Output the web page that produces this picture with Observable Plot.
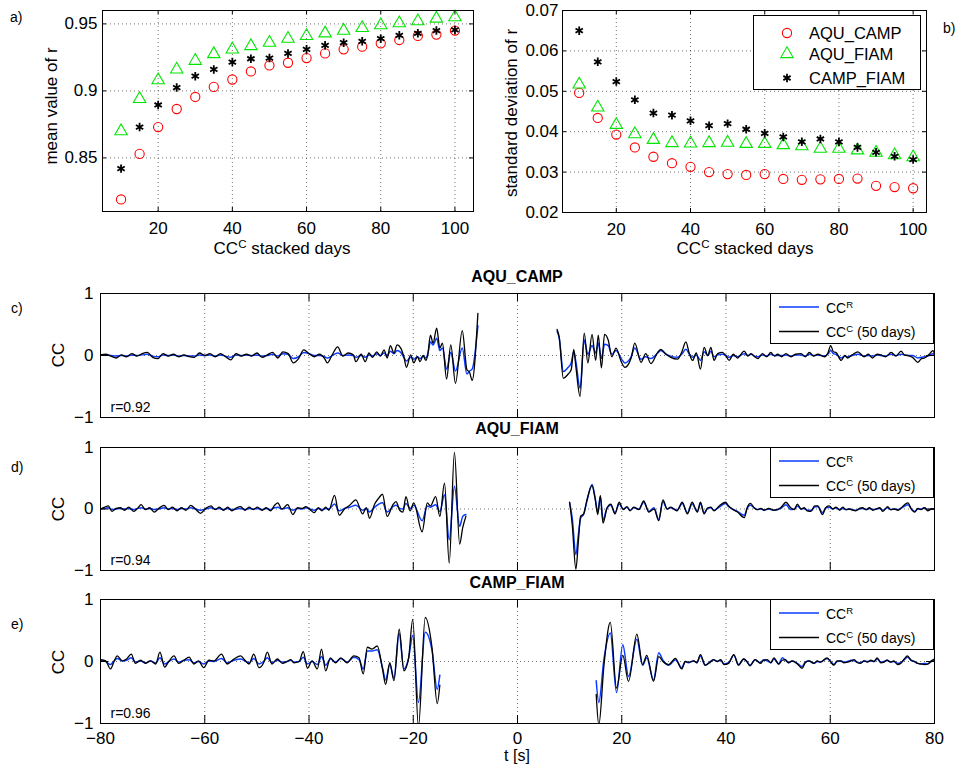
<!DOCTYPE html>
<html><head><meta charset="utf-8">
<script src="https://cdn.jsdelivr.net/npm/d3@7"></script>
<script src="https://cdn.jsdelivr.net/npm/@observablehq/plot@0.6"></script>
<style>
body{margin:0;background:#fff;}
#fig{position:relative;width:964px;height:766px;background:#fff;font-family:"Liberation Sans",Arial,Helvetica,sans-serif;color:#000;overflow:hidden;}
.abs{position:absolute;white-space:nowrap;line-height:1;}
.ctr{transform:translate(-50%,-50%);}
.rot{transform:translate(-50%,-50%) rotate(-90deg);}
.panel{position:absolute;}
sup{font-size:68%;vertical-align:0;position:relative;top:-0.55em;line-height:0;}
</style></head><body><div id="fig"></div>
<script>
// ---------------- data ----------------
const days = [10,15,20,25,30,35,40,45,50,55,60,65,70,75,80,85,90,95,100];
const pairNames = ["AQU_CAMP","AQU_FIAM","CAMP_FIAM"];
const meanAQU_CAMP = [0.819,0.853,0.873,0.8865,0.8955,0.903,0.9085,0.9145,0.919,0.921,0.9245,0.928,0.931,0.933,0.9355,0.938,0.941,0.942,0.945];
const meanAQU_FIAM = [0.870,0.894,0.908,0.916,0.9225,0.9275,0.931,0.9335,0.936,0.939,0.941,0.943,0.945,0.947,0.949,0.9505,0.952,0.954,0.955];
const meanCAMP_FIAM = [0.842,0.873,0.8895,0.9025,0.911,0.916,0.9215,0.924,0.9245,0.928,0.931,0.934,0.936,0.937,0.939,0.9415,0.943,0.945,0.9455];
const stdAQU_CAMP = [0.0496,0.0434,0.0393,0.0361,0.0338,0.0322,0.0313,0.0300,0.0295,0.0293,0.0295,0.0283,0.0281,0.0282,0.0283,0.0284,0.0266,0.0263,0.0260];
const stdAQU_FIAM = [0.0517,0.0460,0.0417,0.0394,0.0380,0.0372,0.0371,0.0372,0.0373,0.0370,0.0370,0.0367,0.0364,0.0358,0.0358,0.0354,0.0348,0.0342,0.0337];
const stdCAMP_FIAM = [0.0650,0.0573,0.0524,0.0479,0.0446,0.0441,0.0427,0.0415,0.0420,0.0406,0.0396,0.0387,0.0375,0.0382,0.0375,0.0361,0.0349,0.0339,0.0331];
const dayTicks = [20,40,60,80,100];
const meanTicks = [0.85,0.9,0.95];
const stdTicks = [0.02,0.03,0.04,0.05,0.06,0.07];
const lagTicks = [-80,-60,-40,-20,0,20,40,60,80];
const lagGrid = [-60,-40,-20,0,20,40,60];
const ccTicks = [-1,0,1];
const rValues = ["r=0.92","r=0.94","r=0.96"];

// rows: [t (s), CC^R, CC^C (50 days)]
const acLeft = [
[-80,0.01,0.01],[-79,0.01,0.02],[-78,0.00,-0.01],[-77,-0.01,-0.04],[-76,0.00,0.01],[-75,-0.01,-0.02],[-74,0.01,0.03],[-73,0.00,-0.01],[-72,0.01,0.03],[-71,0.02,0.05],[-70,-0.01,-0.03],[-69,-0.02,-0.05],[-68,0.01,0.03],[-67,0.00,-0.01],[-66,0.01,0.02],[-65,-0.01,-0.02],[-64,0.00,0.01],[-63,-0.01,-0.02],[-62,-0.01,-0.03],[-61,0.01,0.04],[-60,0.00,0.00],[-59,0.01,0.03],[-58,-0.01,-0.02],[-57,0.01,0.03],[-56,-0.01,-0.02],[-55,-0.03,-0.07],[-54,0.01,0.03],[-53,0.00,-0.01],[-52,0.01,0.02],[-51,0.00,-0.01],[-50,0.01,0.04],[-49,-0.01,-0.03],[-48,0.00,0.01],[-47,0.02,0.05],[-46,-0.01,-0.04],[-45,0.03,0.06],[-44,0.02,0.03],[-43,-0.05,-0.12],[-42,-0.02,-0.05],[-41,0.05,0.09],[-40,0.03,0.03],[-39,0.00,-0.02],[-38,0.00,0.02],[-37,-0.02,-0.05],[-36.5,-0.04,-0.12],[-35.5,0.00,0.02],[-34.5,0.04,0.14],[-33.5,0.00,-0.01],[-32.5,0.01,0.04],[-31.5,0.00,0.01],[-31,-0.03,-0.10],[-30,0.00,0.02],[-29.2,-0.03,-0.10],[-28.5,0.01,0.04],[-27.8,-0.01,-0.03],[-27,0.03,0.06],
[-26.3,0.00,-0.01],[-25.6,0.04,0.09],[-25,0.00,-0.04],[-24.4,0.07,0.16],[-23.7,0.03,0.04],[-23.1,0.08,0.17],[-22.4,0.05,0.12],[-21.8,-0.03,-0.02],[-21.3,-0.09,-0.19],[-20.5,-0.03,0.01],[-19.9,-0.06,-0.12],[-19.2,-0.02,-0.02],[-18.7,-0.05,-0.10],[-18.1,-0.01,0.00],[-17.6,-0.04,-0.08],[-17.2,0.03,0.02],[-16.7,0.22,0.33],[-16.2,0.17,0.20],[-15.5,0.28,0.44],[-14.9,0.08,0.12],[-14.4,0.12,0.20],[-13.6,-0.22,-0.38],[-12.8,0.05,0.17],[-11.9,-0.25,-0.45],[-10.6,0.12,0.40],[-9.7,-0.30,-0.23],[-9.2,-0.25,-0.27],[-8.7,-0.22,-0.40],[-7.6,0.48,0.68]
];
const acRight = [
[7.6,0.39,0.42],[8.0,0.28,0.30],[8.8,-0.26,-0.37],[9.6,-0.20,-0.31],[10.3,-0.12,-0.23],[10.8,0.06,0.10],[11.2,-0.10,-0.18],[12.0,-0.53,-0.66],[12.8,0.25,0.36],[13.5,0.02,-0.12],[14.3,0.16,0.34],[15.0,0.04,-0.08],[15.5,0.20,0.33],[16.1,-0.05,-0.20],[16.7,0.18,0.34],[17.4,0.16,0.25],[18.1,0.02,-0.02],[18.9,0.08,0.12],[19.9,-0.05,-0.10],[20.6,-0.12,-0.19],[21.8,-0.02,-0.04],[22.5,0.12,0.20],[23.7,-0.06,-0.11],[24.6,-0.02,0.03],[25.6,-0.05,-0.13],[26.9,0.04,0.05],[27.5,0.08,0.10],[28.5,0.02,0.02],[29.4,-0.01,-0.03],[30.7,-0.03,-0.06],
[31.5,0.02,0.05],[32.3,0.10,0.22],[33.0,0.02,0.02],[33.6,-0.03,-0.08],[34.3,0.01,0.04],[35.1,-0.08,-0.22],[35.8,0.06,0.13],[36.5,0.00,0.00],[37.1,0.07,0.13],[37.7,-0.02,-0.08],[38.4,0.01,0.03],[39.3,0.02,0.05],[40.0,0.00,-0.01],[40.6,-0.03,-0.08],[41.4,0.00,0.02],[42.2,-0.02,-0.04],[43.5,0.03,0.07],[44.2,0.00,-0.01],[44.8,0.02,0.03],[45.5,-0.01,-0.02],[46.1,-0.02,-0.05],[47.0,0.01,0.03],[47.8,-0.01,-0.02],[48.6,0.02,0.05],[49.3,0.00,-0.01],[49.9,0.00,0.02],[50.7,0.00,-0.02],[51.5,0.01,0.03],[52.5,-0.01,-0.02],[53.3,0.01,0.02],[54.4,0.01,0.03],[55.2,-0.01,-0.02],[56.0,0.02,0.05],[56.8,0.00,-0.01],[57.6,0.01,0.02],[58.9,-0.01,-0.02],[59.5,0.02,0.03],[60.1,0.08,0.16],[60.6,0.03,0.06],[61.1,0.02,0.05],[62.1,-0.04,-0.08],[62.8,-0.01,0.00],[63.3,-0.02,-0.04],[64.2,0.00,0.01],[65.3,0.02,0.06],[66.5,-0.01,-0.02],[67.3,0.00,0.02],[68.1,-0.01,-0.04],[69.0,0.01,0.02],[69.7,0.00,0.01],[70.6,-0.01,-0.02],[71.7,0.02,0.05],[72.6,0.00,-0.01],[73.6,0.02,0.07],[74.2,0.01,0.01],[74.9,0.00,0.00],[75.8,0.00,-0.03],[76.8,-0.04,-0.11],[77.5,-0.03,-0.05],[78.1,-0.02,-0.04],[79.0,0.00,0.02],[79.7,0.03,0.08],[80.0,0.01,0.02]
];
const afLeft = [
[-80,0.00,0.00],[-79.2,0.01,0.03],[-78.5,0.02,0.05],[-77.8,-0.01,-0.04],[-77.0,0.00,0.01],[-76.2,0.01,0.02],[-75.4,0.00,-0.02],[-74.6,0.01,0.03],[-73.6,-0.01,-0.04],[-72.9,0.01,0.01],[-72.2,0.02,0.07],[-71.4,0.00,-0.01],[-70.6,0.01,0.02],[-69.7,-0.01,-0.05],[-68.8,0.00,0.01],[-67.8,0.02,0.06],[-67.0,0.00,-0.01],[-66.2,0.01,0.03],[-65.3,-0.01,-0.03],[-64.5,0.01,0.02],[-63.6,0.00,-0.02],[-62.7,0.02,0.06],[-61.8,0.00,0.00],[-60.8,-0.02,-0.07],[-59.8,0.00,0.01],[-58.8,0.02,0.05],[-58.0,0.00,-0.01],[-57.2,0.01,0.03],[-56.4,-0.01,-0.02],[-55.6,0.01,0.03],[-54.8,-0.01,-0.03],[-53.9,0.00,0.02],[-53.1,0.01,0.04],[-52.3,-0.01,-0.02],[-51.5,0.01,0.03],[-50.7,0.00,-0.01],[-49.9,0.01,0.03],[-49.0,-0.01,-0.02],[-48.2,0.01,0.02],[-47.4,-0.01,-0.03],[-46.6,0.02,0.06],[-46.0,0.03,0.10],[-45.2,0.00,0.00],[-44.1,0.02,0.07],[-43.1,-0.02,-0.09],[-42.2,0.01,0.02],[-41.3,0.00,0.01],[-40.6,0.02,0.04],[-39.8,0.00,-0.01],[-39.0,-0.02,-0.06],[-38.2,0.01,0.02],[-37.5,-0.01,-0.03],[-36.8,0.01,0.03],[-36.2,0.00,-0.02],
[-35.1,0.08,0.22],[-34.2,-0.03,-0.10],[-33.2,0.01,0.00],[-32.2,0.03,0.06],[-31.0,0.06,0.15],[-29.7,-0.02,-0.08],[-29.0,0.01,0.02],[-28.4,-0.05,-0.15],[-27.4,0.03,0.08],[-26.6,0.08,0.18],[-25.9,0.10,0.24],[-25.0,-0.05,-0.12],[-23.9,0.04,0.07],[-23.3,0.06,0.12],[-22.6,0.01,-0.02],[-22.0,0.00,-0.05],[-21.4,0.09,0.20],[-20.6,0.01,-0.03],[-19.9,0.06,0.10],[-18.3,-0.19,-0.37],[-17.3,0.05,0.10],[-16.7,0.03,0.05],[-15.7,0.07,0.20],[-14.9,-0.04,-0.12],[-14.0,0.23,0.42],[-13.1,-0.50,-0.88],[-12.1,0.37,0.92],[-11.1,-0.28,-0.57],[-10.5,-0.12,-0.30],[-9.9,-0.09,-0.12]
];
const afRight = [
[10.0,0.10,0.11],[10.5,-0.15,-0.25],[11.2,-0.74,-0.98],[11.7,-0.40,-0.50],[12.1,-0.15,-0.12],[12.7,-0.08,-0.08],[13.3,0.12,0.14],[14.3,0.40,0.38],[14.9,0.18,0.16],[15.4,-0.05,-0.09],[15.9,0.20,0.22],[16.4,-0.18,-0.23],[17.2,0.02,0.02],[17.9,0.06,0.08],[18.7,-0.06,-0.08],[19.5,0.08,0.11],[20.3,0.00,-0.01],[21.0,0.03,0.04],[21.6,-0.02,-0.03],[22.3,0.02,0.03],[23.3,0.00,-0.01],[24.2,0.11,0.13],[25.2,-0.04,-0.05],[26.2,0.02,0.00],[27.1,-0.17,-0.19],[27.9,0.12,0.15],[28.7,0.00,0.00],[29.4,0.02,0.03],[30.0,0.00,0.00],[30.6,-0.02,-0.03],
[31.6,0.09,0.11],[32.6,-0.06,-0.08],[33.5,0.08,0.11],[34.5,-0.04,-0.05],[35.1,0.09,0.11],[35.8,-0.06,-0.08],[36.5,0.01,0.02],[37.1,0.02,0.03],[37.7,-0.02,-0.03],[38.7,0.03,0.05],[39.9,0.09,0.11],[40.5,0.04,0.05],[41.2,0.00,0.00],[42.2,-0.04,-0.05],[43.5,-0.10,-0.14],[44.1,0.02,0.03],[44.7,0.06,0.09],[45.4,0.02,0.02],[46.0,-0.01,-0.01],[46.7,0.00,0.01],[47.3,-0.02,-0.02],[48.2,0.00,0.01],[49.2,-0.02,-0.02],[50.5,0.01,0.02],[51.5,0.07,0.11],[52.4,-0.01,0.02],[53.1,0.00,-0.01],[53.7,0.05,0.08],[54.4,0.00,0.00],[55.0,0.01,0.02],[55.6,-0.02,-0.03],[56.3,-0.02,-0.04],[57.0,0.03,0.05],[57.6,0.04,0.05],[58.5,-0.06,-0.09],[59.2,0.02,0.03],[59.8,0.03,0.05],[60.5,0.00,0.00],[61.1,0.02,0.03],[61.8,-0.01,-0.02],[62.4,0.01,0.03],[63.0,-0.01,-0.01],[63.7,0.00,0.00],[64.3,-0.01,-0.02],[64.9,-0.02,-0.03],[65.6,0.00,0.01],[66.2,0.01,0.02],[66.9,-0.01,-0.01],[67.5,0.01,0.02],[68.2,-0.01,-0.02],[68.8,0.00,0.00],[69.5,0.01,0.02],[70.1,-0.02,-0.04],[71.0,0.02,0.04],[71.6,-0.01,-0.01],[72.3,0.00,0.00],[73.0,-0.01,-0.02],[73.6,0.01,0.02],[74.9,0.07,0.10],[75.6,0.00,-0.01],[76.2,-0.04,-0.05],[76.8,0.00,0.01],[77.4,0.00,-0.01],[78.1,0.02,0.02],[78.7,-0.02,-0.03],[79.4,0.00,0.00],[80.0,0.00,0.00]
];
const cfLeft = [
[-80.0,0.02,0.03],[-79.0,0.00,0.01],[-78.1,-0.05,-0.12],[-77.4,0.01,0.00],[-76.8,0.05,0.09],[-75.8,0.01,0.01],[-75.0,0.02,0.04],[-74.1,0.06,0.12],[-73.3,-0.01,-0.03],[-72.3,0.01,0.02],[-71.4,-0.02,-0.03],[-70.4,0.01,0.01],[-69.4,-0.02,-0.04],[-68.6,0.06,0.15],[-67.7,-0.04,-0.09],[-66.9,0.00,0.00],[-65.9,0.04,0.09],[-65.0,-0.01,-0.03],[-64.0,0.02,0.02],[-63.0,0.03,0.07],[-62.1,-0.02,-0.04],[-61.2,0.00,0.01],[-60.2,-0.04,-0.10],[-59.2,0.01,0.02],[-58.2,0.00,0.01],[-56.8,0.05,0.12],[-55.7,-0.02,-0.04],[-54.4,0.02,0.04],[-53.1,0.04,0.09],[-52.3,0.01,0.02],[-51.5,-0.02,-0.04],[-50.6,0.05,0.12],[-49.6,-0.04,-0.10],[-48.7,0.00,-0.02],[-48.0,0.06,0.15],[-47.1,-0.02,-0.04],[-46.1,0.02,0.04],[-45.1,-0.01,-0.03],[-44.2,0.00,0.00],[-43.5,0.02,0.03],[-42.9,-0.01,-0.02],[-41.9,0.00,0.00],[-41.1,0.07,0.16],[-40.3,-0.04,-0.11],[-39.4,0.00,0.01],[-38.4,-0.05,-0.12],[-37.6,0.08,0.20],[-36.8,-0.06,-0.15],[-35.9,0.04,0.06],[-34.9,-0.01,-0.02],[-33.9,0.05,0.06],[-32.7,-0.01,-0.02],[-31.4,0.07,0.09],[-30.4,0.03,0.06],
[-29.6,-0.12,-0.20],[-28.8,0.17,0.23],[-27.9,0.17,0.20],[-26.9,0.19,0.25],[-25.9,-0.10,-0.12],[-25.3,-0.30,-0.37],[-24.5,-0.05,-0.02],[-23.7,-0.27,-0.31],[-22.7,0.45,0.52],[-21.8,-0.12,-0.15],[-20.9,0.05,0.05],[-20.1,0.42,0.68],[-19.0,-0.66,-1.05],[-17.7,0.47,0.71],[-16.4,0.18,0.22],[-15.4,-0.45,-0.68],[-14.9,-0.22,-0.38]
];
const cfRight = [
[15.1,-0.31,-0.53],[15.6,-0.66,-1.02],[16.6,0.05,-0.05],[17.8,0.46,0.63],[19.0,-0.50,-0.43],[20.2,0.27,0.10],[21.3,-0.24,-0.32],[22.9,0.36,0.44],[24.0,-0.06,-0.05],[24.8,0.06,0.10],[26.1,-0.30,-0.32],[27.1,0.14,0.08],[27.9,0.02,0.00],[29.0,-0.06,-0.05],[30.3,0.03,0.05],
[31.5,-0.10,-0.12],[32.2,0.00,0.00],[32.8,-0.02,-0.01],[33.8,0.01,0.01],[34.4,-0.02,-0.02],[35.1,0.09,0.11],[36.0,-0.06,-0.06],[37.0,0.00,-0.01],[37.6,0.03,0.03],[38.3,0.00,0.00],[39.0,0.02,0.03],[39.6,-0.04,-0.05],[40.5,-0.02,-0.03],[41.5,0.10,0.11],[42.4,-0.05,-0.06],[43.4,0.04,0.04],[44.0,0.00,0.00],[44.6,-0.06,-0.07],[45.6,0.03,0.03],[46.6,-0.02,-0.03],[47.2,0.03,0.02],[47.9,0.01,0.03],[48.6,-0.02,-0.02],[49.2,0.04,0.06],[50.1,-0.04,-0.04],[50.8,0.06,0.02],[51.4,0.02,0.03],[52.0,-0.02,-0.02],[52.7,0.01,0.01],[53.7,-0.03,-0.04],[54.6,-0.08,-0.11],[55.2,-0.01,-0.02],[55.9,0.01,0.01],[56.9,-0.03,-0.03],[57.5,0.00,0.01],[58.1,-0.01,-0.01],[59.4,0.05,0.06],[60.1,0.00,-0.01],[60.7,-0.05,-0.06],[61.3,0.00,0.01],[62.0,0.01,0.01],[62.6,-0.01,-0.02],[63.3,0.00,-0.01],[64.0,0.02,0.01],[64.6,0.01,0.03],[65.2,-0.01,-0.02],[65.8,-0.02,-0.03],[66.5,0.01,0.01],[67.1,0.00,-0.01],[67.8,0.01,0.02],[68.4,0.00,0.00],[69.0,0.04,0.06],[69.7,-0.01,-0.02],[70.3,0.00,-0.01],[70.9,0.02,0.02],[71.6,-0.01,-0.01],[72.2,0.00,0.01],[72.9,-0.03,-0.05],[73.5,-0.02,-0.03],[74.2,0.03,0.04],[74.8,0.07,0.09],[75.5,0.02,0.02],[76.1,0.00,0.00],[76.8,-0.03,-0.03],[77.4,-0.04,-0.04],[78.1,-0.03,-0.05],[78.7,-0.04,-0.04],[79.4,0.00,0.01],[80.0,0.03,0.04]
];

// ---------------- drawing ----------------
const fig = document.getElementById("fig");
const FONT = '"Liberation Sans", Arial, Helvetica, sans-serif';
const FS = 17;
const fmt = d => String(d).replace("-", "\u2212");
const RED = "#ff0000", GREEN = "#00e600", BLUE = "#0a3cff";
const symStyle = [
  {symbol: "circle", stroke: RED, r: 4.6, strokeWidth: 1.1},
  {symbol: "triangle", stroke: GREEN, r: 4.6, strokeWidth: 1.1},
  {symbol: "asterisk", stroke: "#000", r: 4.0, strokeWidth: 1.8}
];

function place(node, left, top) {
  const d = document.createElement("div");
  d.className = "panel";
  d.style.left = left + "px"; d.style.top = top + "px";
  d.appendChild(node); fig.appendChild(d);
}
function text(html, x, y, cls, style = "") {
  const d = document.createElement("div");
  d.className = "abs " + (cls || "");
  d.style.cssText += `left:${x}px;top:${y}px;${style}`;
  d.innerHTML = html; fig.appendChild(d);
  return d;
}
function inward(xt, yt, iw, ih, len) {
  const s = {stroke: "#000", strokeWidth: 1};
  return [
    Plot.ruleX(xt, {...s, insetTop: ih - len}),
    Plot.ruleX(xt, {...s, insetBottom: ih - len}),
    Plot.ruleY(yt, {...s, insetRight: iw - len}),
    Plot.ruleY(yt, {...s, insetLeft: iw - len})
  ];
}
const dotted = {stroke: "#000", strokeOpacity: 0.55, strokeDasharray: "1,3", strokeWidth: 1};

function topPanel({left, width, height, mL, mR, mT, mB, xDomain, yDomain, yTicks, series, yPad}) {
  const iw = width - mL - mR, ih = height - mT - mB;
  const marks = [
    Plot.gridX(dayTicks, dotted),
    Plot.gridY(yTicks, dotted)
  ];
  series.forEach((vals, i) => {
    const rows = days.map((d, j) => ({d, v: vals[j]}));
    marks.push(Plot.dot(rows, {x: "d", y: "v", fill: "none", ...symStyle[i]}));
  });
  marks.push(Plot.frame({stroke: "#000", strokeWidth: 1}));
  marks.push(...inward(dayTicks, yTicks, iw, ih, 4));
  marks.push(Plot.axisX(dayTicks, {tickSize: 0, tickPadding: 10, label: null, fontSize: FS, tickFormat: fmt}));
  marks.push(Plot.axisY(yTicks, {tickSize: 0, tickPadding: yPad, label: null, fontSize: FS, tickFormat: fmt}));
  const p = Plot.plot({
    width, height, marginLeft: mL, marginRight: mR, marginTop: mT, marginBottom: mB,
    x: {domain: xDomain}, y: {domain: yDomain},
    style: {background: "transparent", overflow: "visible", fontFamily: FONT, fontSize: FS + "px", color: "#000"},
    marks
  });
  place(p, left, 0);
}

topPanel({left: 0, width: 480, height: 260, mL: 102, mR: 7, mT: 10, mB: 49,
  xDomain: [5, 105], yDomain: [0.81, 0.96], yTicks: meanTicks, yPad: 5,
  series: [meanAQU_CAMP, meanAQU_FIAM, meanCAMP_FIAM]});
topPanel({left: 480, width: 484, height: 260, mL: 82, mR: 38, mT: 10, mB: 48,
  xDomain: [5.5, 103.6], yDomain: [0.02, 0.07], yTicks: stdTicks, yPad: 4,
  series: [stdAQU_CAMP, stdAQU_FIAM, stdCAMP_FIAM]});

function wavePanel({top, height, mT, mB, leftRows, rightRows, rText, showX}) {
  const width = 964, mL = 100, mR = 30;
  const iw = width - mL - mR, ih = height - mT - mB;
  const line = (rows, k, stroke, sw) => Plot.line(rows, {x: d => d[0], y: d => d[k], stroke, strokeWidth: sw, curve: "monotone-x", clip: true});
  const marks = [
    Plot.gridX(lagGrid, dotted),
    Plot.ruleY([0], dotted),
    line(leftRows, 1, BLUE, 1.5), line(rightRows, 1, BLUE, 1.5),
    line(leftRows, 2, "#000", 1.3), line(rightRows, 2, "#000", 1.3),
    Plot.frame({stroke: "#000", strokeWidth: 1}),
    ...inward(lagTicks, [0], iw, ih, 8),
    Plot.axisY(ccTicks, {tickSize: 0, tickPadding: 7, label: null, fontSize: FS, tickFormat: fmt}),
    Plot.text([rText], {text: d => d, frameAnchor: "bottom-left", dx: 10, dy: -10, textAnchor: "start", lineAnchor: "middle", fontSize: 14, fill: "#000"})
  ];
  if (showX) marks.push(Plot.axisX(lagTicks, {tickSize: 0, tickPadding: 8, label: null, fontSize: FS, tickFormat: fmt}));
  const p = Plot.plot({
    width, height, marginLeft: mL, marginRight: mR, marginTop: mT, marginBottom: mB,
    x: showX ? {domain: [-80, 80]} : {domain: [-80, 80], axis: null},
    y: {domain: [-1, 1]},
    style: {background: "transparent", overflow: "visible", fontFamily: FONT, fontSize: FS + "px", color: "#000"},
    marks
  });
  place(p, 0, top);
}
wavePanel({top: 270, height: 160, mT: 23, mB: 13, leftRows: acLeft, rightRows: acRight, rText: rValues[0]});
wavePanel({top: 430, height: 150, mT: 17, mB: 10, leftRows: afLeft, rightRows: afRight, rText: rValues[1]});
wavePanel({top: 585, height: 181, mT: 14, mB: 43, leftRows: cfLeft, rightRows: cfRight, rText: rValues[2], showX: true});

// ---- legends ----
function symbolSvg(i) {
  const s = symStyle[i];
  const type = {circle: d3.symbolCircle, triangle: d3.symbolTriangle, asterisk: d3.symbolAsterisk}[s.symbol];
  const path = d3.symbol(type, Math.PI * s.r * s.r)();
  return `<svg width="20" height="20" style="position:absolute;left:23px;top:-10px;overflow:visible"><path transform="translate(10,10)" d="${path}" fill="none" stroke="${s.stroke}" stroke-width="${s.strokeWidth}"/></svg>`;
}
const lb = text("", 753, 15, "", "width:168px;height:75px;border:1px solid #000;background:#fff;box-sizing:border-box;");
[17, 38, 62].forEach((y, i) => {
  lb.innerHTML += `<div style="position:absolute;left:0;top:${y}px">${symbolSvg(i)}</div>` +
    `<div class="abs" style="left:55px;top:${y}px;transform:translateY(-50%);font-size:16.5px">${pairNames[i]}</div>`;
});
function waveLegend(top) {
  const b = text("", 770, top, "", "width:164px;height:51px;border:1px solid #000;background:#fff;box-sizing:border-box;");
  b.innerHTML = `<svg width="60" height="51" style="position:absolute;left:0;top:0"><line x1="8" x2="48" y1="13" y2="13" stroke="${BLUE}" stroke-width="1.6"/><line x1="8" x2="48" y1="37.5" y2="37.5" stroke="#000" stroke-width="1.3"/></svg>` +
    `<div class="abs" style="left:55px;top:14px;transform:translateY(-50%);font-size:14px">CC<sup>R</sup></div>` +
    `<div class="abs" style="left:55px;top:38px;transform:translateY(-50%);font-size:14px">CC<sup>C</sup> (50 days)</div>`;
}
waveLegend(293); waveLegend(447); waveLegend(599);

// ---- labels ----
text("a)", 10, 10, "", "font-size:14px");
text("b)", 943, 21, "", "font-size:14px");
text("c)", 11, 301, "", "font-size:14px");
text("d)", 11, 460, "", "font-size:14px");
text("e)", 11, 617, "", "font-size:14px");
text("mean value of r", 51, 106, "rot", "font-size:17px");
text("standard deviation of r", 511, 113, "rot", "font-size:17px");
text("CC<sup>C</sup> stacked days", 282, 248, "ctr", "font-size:17px");
text("CC<sup>C</sup> stacked days", 745, 248, "ctr", "font-size:17px");
text(pairNames[0], 517, 277, "ctr", "font-size:16px;font-weight:bold");
text(pairNames[1], 517, 429, "ctr", "font-size:16px;font-weight:bold");
text(pairNames[2], 517, 583, "ctr", "font-size:16px;font-weight:bold");
text("CC", 58, 355, "rot", "font-size:17px");
text("CC", 58, 509, "rot", "font-size:17px");
text("CC", 58, 662, "rot", "font-size:17px");
text("t [s]", 517, 756, "ctr", "font-size:16px");
</script></body></html>
